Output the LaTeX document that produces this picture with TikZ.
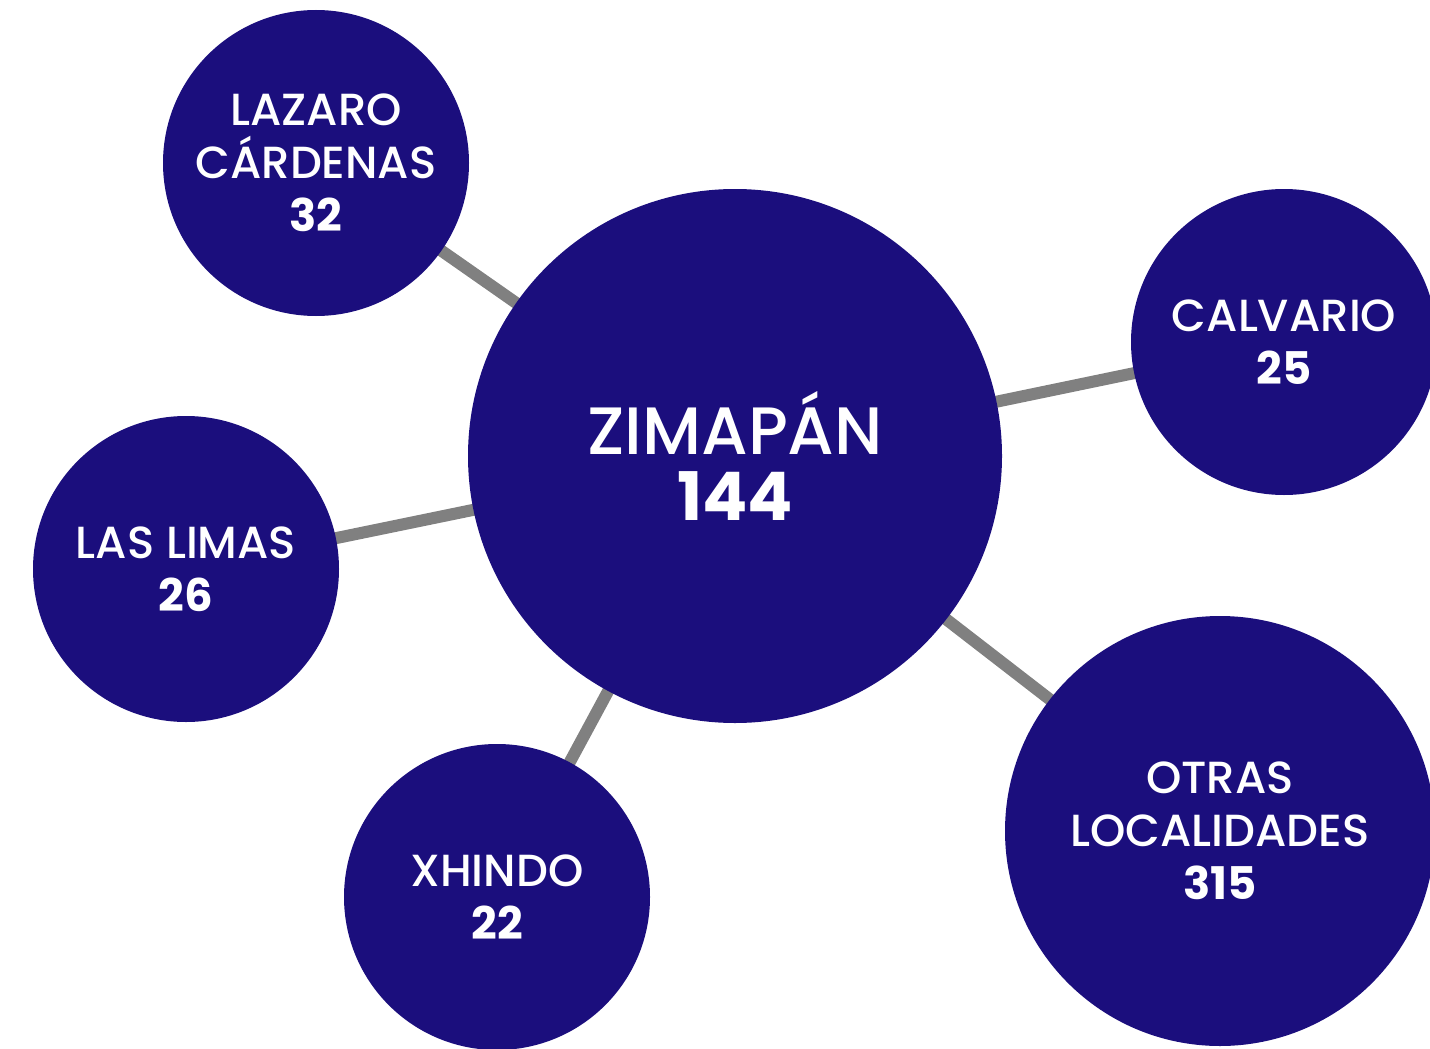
\documentclass[tikz,border=0pt]{standalone}
\usepackage{fontspec}
\IfFontExistsTF{Poppins Medium}
  {\setmainfont{Poppins Medium}[BoldFont=Poppins Bold]}
  {\setmainfont{Poppins}}
\usetikzlibrary{positioning}
\definecolor{bubblecol}{HTML}{1B0E7D}
\definecolor{linkcol}{HTML}{808080}
\pgfdeclarelayer{bg}
\pgfsetlayers{bg,main}
\tikzset{
  bubble/.style={circle, fill=bubblecol, text=white, align=center, inner sep=0pt,
    minimum size=306pt, font=\fontsize{45}{53}\selectfont},
  bigbubble/.style={bubble, minimum size=534pt, font=\fontsize{67}{66}\selectfont},
  link/.style={draw=linkcol, line width=12pt},
}
\newcommand{\total}[1]{\textbf{#1}}

\begin{document}
\begin{tikzpicture}[x=1pt,y=-1pt]

% Page frame
\clip (0,0) rectangle (1430,1049);

% Centre
\node[bigbubble] (zimapan) at (735,456) {ZIMAP\'AN\\\total{144}};

% Localities
\node[bubble] (lazaro) at (316,163) {LAZARO\\C\'ARDENAS\\\total{32}};
\node[bubble] (calvario) at (1284,342) {CALVARIO\\\total{25}};
\node[bubble] (limas) at (186,569) {LAS LIMAS\\\total{26}};
\node[bubble] (xhindo) at (497,897) {XHINDO\\\total{22}};
\node[bubble, minimum size=430pt] (otras) at (1220,831) {OTRAS\\LOCALIDADES\\\total{315}};

% Links behind the bubbles
\begin{pgfonlayer}{bg}
\foreach \n in {lazaro,calvario,limas,xhindo,otras}
  \draw[link] (zimapan.center) -- (\n.center);
\end{pgfonlayer}

\end{tikzpicture}
\end{document}
